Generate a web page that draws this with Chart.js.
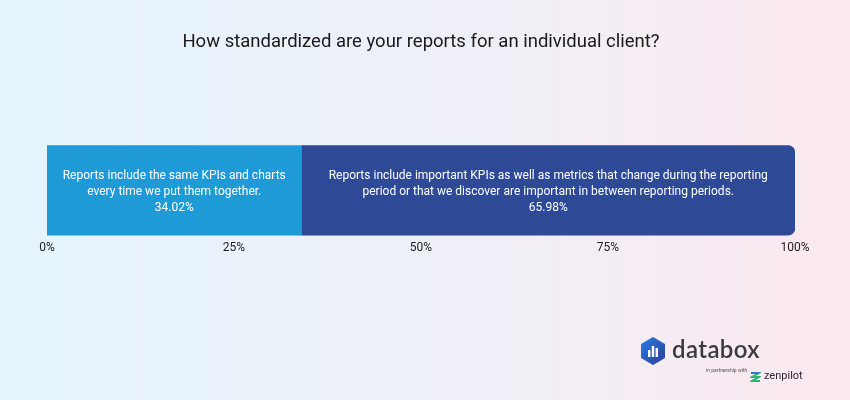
<!DOCTYPE html>
<html>
<head>
<meta charset="utf-8">
<script src="https://cdn.jsdelivr.net/npm/chart.js@4"></script>
<style>
  html, body { margin: 0; padding: 0; }
  body {
    width: 850px; height: 400px; overflow: hidden; position: relative;
    background: linear-gradient(90deg, #e4f4fc 0%, #eef0f8 50%, #fce8f0 100%);
    font-family: Roboto, sans-serif;
  }
  #wrap { position: absolute; left: 0; top: 0; width: 850px; height: 400px; }
  .logo { position: absolute; left: 640px; top: 337px; width: 170px; height: 50px; }
  .logo .word { position: absolute; left: 32px; top: -3px; font-family: Lato, sans-serif; font-weight: 600; font-size: 24px; color: #3a3a42; letter-spacing: 0.4px; }
  .logo .partner { position: absolute; left: 66px; top: 30px; font-size: 5px; color: #555; }
  .logo .zen { position: absolute; left: 124px; top: 32px; font-size: 11px; color: #2a2a3a; }
</style>
</head>
<body>
<div id="wrap"><canvas id="chart" width="850" height="400"></canvas></div>
<div class="logo">
  <svg width="26" height="28" viewBox="0 0 26 28" style="position:absolute;left:0;top:0">
    <defs>
      <linearGradient id="hx" x1="0" y1="0" x2="1" y2="1">
        <stop offset="0" stop-color="#2d7be0"/>
        <stop offset="1" stop-color="#2b3f9a"/>
      </linearGradient>
    </defs>
    <path d="M13 1 L24 7.5 L24 20.5 L13 27 L2 20.5 L2 7.5 Z" fill="url(#hx)" stroke="url(#hx)" stroke-width="2" stroke-linejoin="round"/>
    <rect x="8" y="13" width="2.4" height="7" fill="#fff"/>
    <rect x="11.8" y="9" width="2.4" height="11" fill="#fff"/>
    <rect x="15.6" y="11" width="2.4" height="9" fill="#fff"/>
  </svg>
  <div class="word">databox</div>
  <div class="partner">in partnership with</div>
  <svg width="11" height="12" viewBox="0 0 11 12" style="position:absolute;left:110px;top:34px">
    <path d="M1 2 L9 2 L2 6 L9 6 L2 10 L10 10" fill="none" stroke="#2bb673" stroke-width="2"/>
    <path d="M1 2 L9 2" stroke="#3b6fe0" stroke-width="2"/>
  </svg>
  <div class="zen">zenpilot</div>
</div>
<script>
const categories = ["Standardization"];
const seriesLabels = [
  ["Reports include the same KPIs and charts", "every time we put them together."],
  ["Reports include important KPIs as well as metrics that change during the reporting", "period or that we discover are important in between reporting periods."]
];
const seriesValues = [34.02, 65.98];
const seriesColors = ["#1e9bd7", "#2e4996"];
const tickValues = [0, 25, 50, 75, 100];

const barText = {
  id: "barText",
  afterDatasetsDraw(chart) {
    const ctx = chart.ctx;
    ctx.save();
    ctx.fillStyle = "#ffffff";
    ctx.font = "12px Roboto";
    ctx.textAlign = "center";
    ctx.textBaseline = "middle";
    chart.data.datasets.forEach((ds, i) => {
      const bar = chart.getDatasetMeta(i).data[0];
      const cx = (bar.x + bar.base) / 2;
      const lines = seriesLabels[i].concat([ds.data[0].toFixed(2) + "%"]);
      const lh = 16;
      const y0 = bar.y + 2 - (lines.length - 1) * lh / 2;
      lines.forEach((t, k) => ctx.fillText(t, cx, y0 + k * lh));
    });
    ctx.restore();
  }
};

new Chart(document.getElementById("chart"), {
  type: "bar",
  data: {
    labels: categories,
    datasets: seriesValues.map((v, i) => ({
      label: seriesLabels[i].join(" "),
      data: [v],
      backgroundColor: seriesColors[i],
      borderRadius: i === seriesValues.length - 1
        ? { topLeft: 0, bottomLeft: 0, topRight: 8, bottomRight: 8 } : 0,
      borderSkipped: false,
      barPercentage: 1,
      categoryPercentage: 1
    }))
  },
  options: {
    indexAxis: "y",
    responsive: false,
    animation: false,
    layout: { padding: { left: 47, right: 55, top: 0, bottom: 140 } },
    plugins: {
      legend: { display: false },
      tooltip: { enabled: false },
      title: {
        display: true,
        text: "How standardized are your reports for an individual client?",
        color: "#1a1a1a",
        font: { family: "Roboto", size: 18.5, weight: "normal" },
        padding: { top: 31, bottom: 92 }
      }
    },
    scales: {
      x: {
        stacked: true,
        min: 0,
        max: 100,
        afterBuildTicks: s => { s.ticks = tickValues.map(v => ({ value: v })); },
        grid: { display: false, drawTicks: false },
        border: { display: false },
        ticks: {
          color: "#222",
          font: { family: "Roboto", size: 12 },
          padding: 5,
          maxRotation: 0,
          callback: v => v + "%"
        }
      },
      y: {
        stacked: true,
        display: false
      }
    }
  },
  plugins: [barText]
});
</script>
</body>
</html>
